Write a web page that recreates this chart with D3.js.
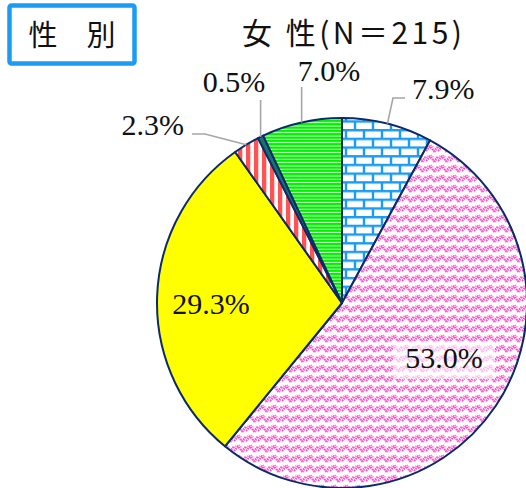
<!DOCTYPE html>
<html>
<head>
<meta charset="utf-8">
<script src="https://cdn.jsdelivr.net/npm/d3@7"></script>
<style>
  html, body { margin: 0; padding: 0; background: #fff; }
  svg { display: block; }
  .pct { font-family: "Liberation Serif", "Times New Roman", Times, serif; }
</style>
</head>
<body>
<svg id="chart" width="526" height="488"></svg>
<script>
// data, clockwise from 12 o'clock
const categories = ['c1', 'c2', 'c3', 'c4', 'c5', 'c6'];
const values = [7.9, 53.0, 29.3, 2.3, 0.5, 7.0];
const labels = ['7.9%', '53.0%', '29.3%', '2.3%', '0.5%', '7.0%'];
const title = '女 性(N＝215)';
const sectionLabel = '性　別';

const width = 526, height = 488;
const cx = 342, cy = 303, radius = 185;
const navy = '#0c2a6a';
const leaderColor = '#a6a6a6';

const svg = d3.select('#chart');
const defs = svg.append('defs');

// --- fill patterns ---
const brick = defs.append('pattern')
  .attr('id', 'p-brick').attr('patternUnits', 'userSpaceOnUse')
  .attr('width', 18).attr('height', 17.4);
brick.append('rect').attr('width', 18).attr('height', 17.4).attr('fill', '#fff');
brick.append('path')
  .attr('d', 'M0,1.2H18M0,9.9H18M4,1.2V9.9M13,9.9V17.4')
  .attr('stroke', '#1b9cf2').attr('stroke-width', 2.4).attr('fill', 'none');

const weave = defs.append('pattern')
  .attr('id', 'p-weave').attr('patternUnits', 'userSpaceOnUse')
  .attr('width', 12).attr('height', 10);
weave.append('rect').attr('width', 12).attr('height', 10).attr('fill', '#fff');
weave.append('path')
  .attr('d', 'M0,8L4,3.5L8,8L12,3.5')
  .attr('stroke', '#ff4fc8').attr('stroke-width', 2.2)
  .attr('stroke-dasharray', '1.6,0.7').attr('fill', 'none');
weave.append('path')
  .attr('d', 'M0,5L3,2M5,2L8,5M9,9L12,6')
  .attr('stroke', '#ff78d6').attr('stroke-width', 1.6)
  .attr('stroke-dasharray', '1.2,0.8').attr('fill', 'none');

const stripes = defs.append('pattern')
  .attr('id', 'p-stripes').attr('patternUnits', 'userSpaceOnUse')
  .attr('width', 8).attr('height', 8);
stripes.append('rect').attr('width', 8).attr('height', 8).attr('fill', '#fff');
stripes.append('rect').attr('width', 4.3).attr('height', 8).attr('fill', '#ff5252');

const hlines = defs.append('pattern')
  .attr('id', 'p-hlines').attr('patternUnits', 'userSpaceOnUse')
  .attr('width', 8).attr('height', 3.33);
hlines.append('rect').attr('width', 8).attr('height', 3.33).attr('fill', '#d8ffd8');
hlines.append('rect').attr('width', 8).attr('height', 2.3).attr('fill', '#00f000');

const fills = ['url(#p-brick)', 'url(#p-weave)', '#ffff00', 'url(#p-stripes)', '#17716e', 'url(#p-hlines)'];

// label placement (offsets from pie centre); leader = elbow points after arc point
const labelLayout = [
  { x: 70, y: -204, anchor: 'start', leader: [[51, -205], [63, -205]] },
  { x: 102, y: 65, anchor: 'middle', inside: true },
  { x: -131, y: 11, anchor: 'middle', inside: true },
  { x: -158, y: -168, anchor: 'end', leader: [[-137, -169], [-150, -169]] },
  { x: -108, y: -211, anchor: 'middle', leader: [[null, -203]] },
  { x: -13, y: -222, anchor: 'middle', leader: [[null, -216]] }
];

// --- section box ---
svg.append('rect')
  .attr('x', 9.5).attr('y', 5.5).attr('width', 125).attr('height', 58)
  .attr('rx', 2)
  .attr('fill', '#fff').attr('stroke', '#1b9cf2').attr('stroke-width', 4.5);
svg.append('text')
  .attr('x', 72).attr('y', 46)
  .attr('text-anchor', 'middle')
  .style('font-family', '"Noto Sans CJK JP", sans-serif')
  .attr('font-size', 29)
  .attr('fill', '#111')
  .text(sectionLabel);

// --- title ---
svg.append('text')
  .attr('x', 242).attr('y', 44)
  .style('font-family', '"Noto Sans CJK JP", sans-serif')
  .attr('font-size', 30)
  .attr('textLength', 220).attr('lengthAdjust', 'spacing')
  .attr('fill', '#111')
  .text(title);

// --- pie ---
const pie = d3.pie().sort(null).value(d => d);
const arcs = pie(values);
const arc = d3.arc().innerRadius(0).outerRadius(radius);
const edge = d3.arc().innerRadius(radius).outerRadius(radius);

const g = svg.append('g').attr('transform', `translate(${cx},${cy})`);

g.selectAll('path.slice')
  .data(arcs)
  .join('path')
    .attr('class', 'slice')
    .attr('d', arc)
    .attr('fill', (d, i) => fills[i])
    .attr('stroke', navy)
    .attr('stroke-width', 2)
    .attr('stroke-linejoin', 'round');

// leader lines
const line = d3.line();
arcs.forEach((d, i) => {
  const lay = labelLayout[i];
  if (lay.inside) return;
  const start = edge.centroid(d);
  const pts = [start].concat(lay.leader.map(p => [p[0] === null ? start[0] : p[0], p[1]]));
  g.append('path')
    .attr('d', line(pts))
    .attr('fill', 'none')
    .attr('stroke', leaderColor)
    .attr('stroke-width', 1.6);
});

// label backing box for the big slice
const lab1 = labelLayout[1];
g.append('rect')
  .attr('x', lab1.x - 51).attr('y', lab1.y - 27)
  .attr('width', 102).attr('height', 38)
  .attr('fill', '#fff').attr('fill-opacity', 0.6);

g.selectAll('text.pct')
  .data(arcs)
  .join('text')
    .attr('class', 'pct')
    .attr('x', (d, i) => labelLayout[i].x)
    .attr('y', (d, i) => labelLayout[i].y)
    .attr('text-anchor', (d, i) => labelLayout[i].anchor)
    .attr('font-size', 30)
    .attr('fill', '#111')
    .text((d, i) => labels[i]);
</script>
</body>
</html>
